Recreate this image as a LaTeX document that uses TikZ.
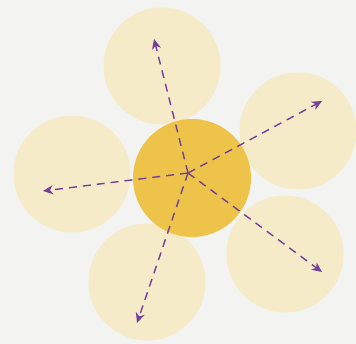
\documentclass[tikz,border=0pt]{standalone}
\usetikzlibrary{arrows.meta}
\definecolor{paper}{HTML}{F3F3F2}
\definecolor{petal}{HTML}{F6EBC8}
\definecolor{core}{HTML}{EDC449}
\definecolor{violet}{HTML}{74409A}

\begin{document}
\begin{tikzpicture}[
  x=1pt,y=-1pt,
  petalc/.style={circle,fill=petal,minimum size=117pt,inner sep=0pt},
  corec/.style={circle,fill=core,minimum size=118pt,inner sep=0pt},
  arrow/.style={-{Stealth[length=10pt,width=9pt,inset=3pt]},draw=violet,line width=1.4pt,dash pattern=on 8pt off 6pt}
]
\fill[paper] (0,0) rectangle (356,344);
\useasboundingbox (0,0) rectangle (356,344);
\node[petalc] (top) at (162,66) {};
\node[petalc] (right) at (298,131) {};
\node[petalc] (left) at (72,174) {};
\node[petalc] (lowleft) at (147,282) {};
\node[petalc] (lowright) at (285,254) {};
\node[corec] (core) at (192,178) {};
\coordinate (hub) at (188,173);
\coordinate (tipT) at (154,39);
\coordinate (tipR) at (322,101);
\coordinate (tipL) at (43,191);
\coordinate (tipBL) at (137,323);
\coordinate (tipBR) at (322,272);
\draw[arrow] (hub) -- (tipT);
\draw[arrow] (hub) -- (tipR);
\draw[arrow] (hub) -- (tipL);
\draw[arrow] (hub) -- (tipBL);
\draw[arrow] (hub) -- (tipBR);
\end{tikzpicture}
\end{document}
